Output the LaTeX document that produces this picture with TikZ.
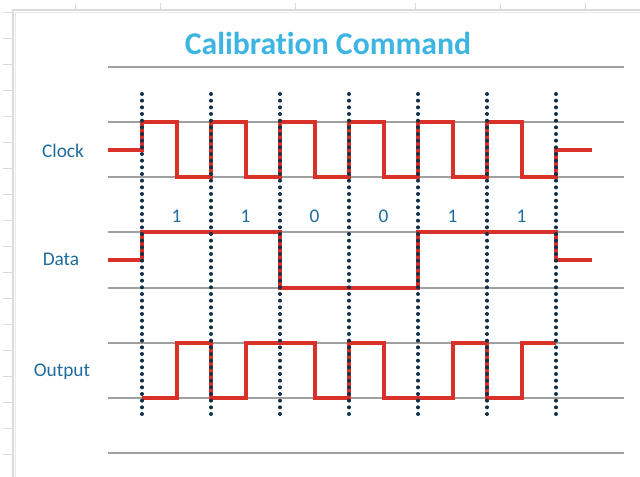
\documentclass[tikz,border=0pt]{standalone}
\usepackage{fontspec}
\setmainfont{Carlito}[Ligatures=NoCommon]
\definecolor{titleblue}{RGB}{61,181,226}
\definecolor{labelblue}{RGB}{30,108,158}
\definecolor{wavered}{RGB}{217,48,40}
\definecolor{dotnavy}{RGB}{18,48,74}
\definecolor{gridgray}{RGB}{160,160,160}
\definecolor{sheetgray}{RGB}{218,218,218}
\tikzset{
  wave/.style={draw=wavered,line width=2.8pt,line join=miter},
  gridline/.style={draw=gridgray,line width=1.1pt},
  clockdots/.style={draw=dotnavy,line width=3pt,line cap=round,dash pattern=on 0pt off 5pt},
  siglabel/.style={text=labelblue,font=\fontsize{14.5}{16}\selectfont,inner sep=0.75pt},
  bitlabel/.style={text=labelblue,font=\fontsize{14.5}{16}\selectfont,inner sep=0.75pt}
}
\begin{document}
\begin{tikzpicture}[x=0.75pt,y=0.75pt,yscale=-1,xscale=1]
\useasboundingbox (0,0) rectangle (640,476);
%Shape: Sheet ticks
\foreach \ty in {12,38,64,90,116,142,168,194,220,246,272,298,324,350,376,402,428,454}
  \draw [sheetgray,line width=0.6pt] (3,\ty) -- (12,\ty);
\foreach \tx in {75,160,295,415,500,585}
  \draw [sheetgray,line width=0.6pt] (\tx,3) -- (\tx,10);
%Shape: Chart frame
\draw [draw=sheetgray,line width=1.5pt] (13,478) -- (13,10) -- (642,10);
\draw [draw=sheetgray!60,line width=0.8pt] (15.5,478) -- (15.5,12.5) -- (642,12.5);
%Shape: Grid lines
\foreach \gy in {67,122,177,232,288,343,398,453}
  \draw [gridline] (108,\gy) -- (624,\gy);
%Shape: Clock wave
\draw [wave] (108,150) -- (142,150) -- (142,122) -- (177,122) -- (177,177) -- (211,177) -- (211,122) -- (246,122) -- (246,177) -- (280,177) -- (280,122) -- (315,122) -- (315,177) -- (349,177) -- (349,122) -- (384,122) -- (384,177) -- (418,177) -- (418,122) -- (453,122) -- (453,177) -- (487,177) -- (487,122) -- (522,122) -- (522,177) -- (556,177) -- (556,150) -- (592,150);
%Shape: Data wave
\draw [wave] (108,260) -- (142,260) -- (142,232) -- (280,232) -- (280,288) -- (418,288) -- (418,232) -- (556,232) -- (556,260) -- (592,260);
%Shape: Output wave
\draw [wave] (142,398) -- (177,398) -- (177,343) -- (211,343) -- (211,398) -- (246,398) -- (246,343) -- (315,343) -- (315,398) -- (349,398) -- (349,343) -- (384,343) -- (384,398) -- (453,398) -- (453,343) -- (487,343) -- (487,398) -- (522,398) -- (522,343) -- (556,343);
%Shape: Clock edges (dotted)
\foreach \dx in {142,211,280,349,418,487,556}
  \draw [clockdots] (\dx,94) -- (\dx,420);
% Text Node
\node (title) at (328,43) [text=titleblue,font=\fontsize{23.8}{26}\bfseries] {Calibration Command};
% Text Node
\node (clock) at (63,151) [siglabel] {Clock};
% Text Node
\node (data) at (61,259) [siglabel] {Data};
% Text Node
\node (output) at (62,372) [siglabel] {Output};
% Text Node
\node (bitA) at (176.5,216) [bitlabel] {1};
\node (bitB) at (245.5,216) [bitlabel] {1};
\node (bitC) at (314.5,216) [bitlabel] {0};
\node (bitD) at (383.5,216) [bitlabel] {0};
\node (bitE) at (452.5,216) [bitlabel] {1};
\node (bitF) at (521.5,216) [bitlabel] {1};
\end{tikzpicture}
\end{document}
